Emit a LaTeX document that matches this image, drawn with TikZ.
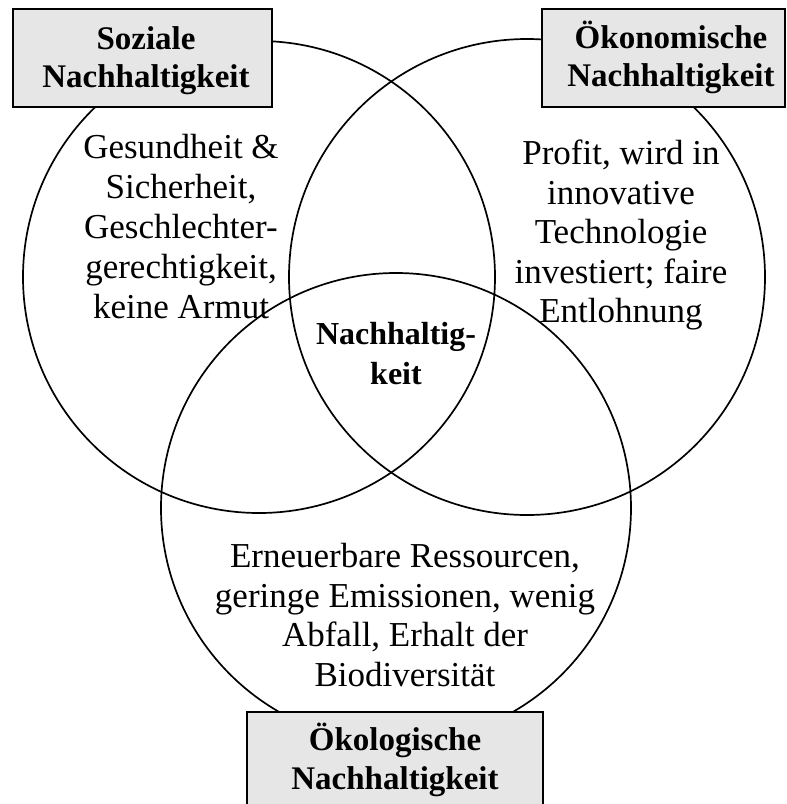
\documentclass[tikz,border=0pt]{standalone}
\usepackage{fontspec}
\setmainfont{Liberation Serif}
\definecolor{boxgray}{HTML}{E6E6E6}
\tikzset{
  ring/.style={draw=black, line width=1.7pt},
  titlebox/.style={draw=black, line width=1.8pt, fill=boxgray, inner sep=0pt},
  titletext/.style={align=center, inner sep=0pt, font=\fontsize{33}{38}\selectfont\bfseries},
  bodytext/.style={align=center, inner sep=0pt, font=\fontsize{35}{40}\selectfont},
}
\begin{document}
\begin{tikzpicture}[x=1pt,y=-1pt]
\useasboundingbox (0,0) rectangle (787,804);
\fill[white] (0,0) rectangle (787,804);
% circles
\draw[ring] (259,277) circle[radius=236pt];
\draw[ring] (527,277) circle[radius=238pt];
\draw[ring] (396,508) circle[radius=235pt];
% title boxes
\node[titlebox, minimum width=259pt, minimum height=98pt] (soz) at (142.5,58) {};
\node[titletext] (soztitle) at (146,61) {Soziale\\Nachhaltigkeit};
\node[titlebox, minimum width=243pt, minimum height=98pt] (oek) at (663.5,58) {};
\node[titletext] (oektitle) at (671,57) {Ökonomische\\Nachhaltigkeit};
\node[titlebox, minimum width=296pt, minimum height=100pt] (eco) at (395,762) {};
\node[titletext, font=\fontsize{33}{39}\selectfont\bfseries] (ecotitle) at (395,760) {Ökologische\\Nachhaltigkeit};
% body texts
\node[bodytext] (soztxt) at (181,227) {Gesundheit \&\\Sicherheit,\\Geschlechter-\\gerechtigkeit,\\keine Armut};
\node[bodytext, font=\fontsize{35}{39.5}\selectfont] (oektxt) at (621,235) {Profit, wird in\\innovative\\Technologie\\investiert; faire\\Entlohnung};
\node[bodytext, font=\fontsize{32}{40}\selectfont\bfseries] (centre) at (396,354) {Nachhaltig-\\keit};
\node[bodytext, font=\fontsize{35}{39.5}\selectfont] (ecotxt) at (405,615) {Erneuerbare Ressourcen,\\geringe Emissionen, wenig\\Abfall, Erhalt der\\Biodiversität};
\end{tikzpicture}
\end{document}
